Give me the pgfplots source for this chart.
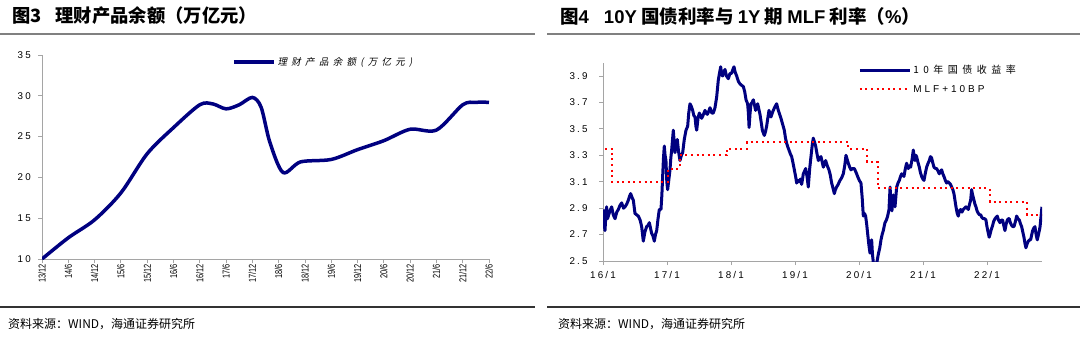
\documentclass[border=0pt]{standalone}
\usepackage{fontspec}
\usepackage{pgfplots}
\pgfplotsset{compat=1.18}
\setmainfont{Liberation Sans}
\newfontfamily\cjk{Noto Sans CJK SC}
\newfontfamily\cjkls[LetterSpace=45]{Noto Sans CJK SC}
\newfontfamily\cjklssl[LetterSpace=45,FakeSlant=0.2]{Noto Sans CJK SC}
\newfontfamily\lsA[LetterSpace=22]{Liberation Sans}
\newfontfamily\lsB[LetterSpace=30]{Liberation Sans}
\newfontfamily\lsC[LetterSpace=24]{Liberation Sans}
\newfontfamily\narrowf[FakeStretch=0.74]{Liberation Sans}
\definecolor{navy}{RGB}{0,0,128}
\definecolor{rulegray}{RGB}{128,128,128}
\definecolor{axgray}{RGB}{165,165,165}
\begin{document}
\begin{tikzpicture}[x=1pt,y=1pt]
\useasboundingbox (0,0) rectangle (1080,338);
\fill[white] (0,0) rectangle (1080,338);
% titles and rules
\node[anchor=west,inner sep=0] at (12,322) {\fontsize{18.3}{20}\selectfont\cjk\bfseries 图3\hspace{14pt}理财产品余额（万亿元）};
\node[anchor=west,inner sep=0] at (560,322) {\fontsize{18.5}{20}\selectfont\cjk\bfseries 图{\rmfamily\bfseries 4}\hspace{15pt}{\rmfamily\bfseries 10Y} 国债利率与 {\rmfamily\bfseries 1Y} 期 {\rmfamily\bfseries MLF} 利率（{\rmfamily\bfseries\%}）};
\draw[rulegray,line width=1.6pt] (0,304) -- (535,304);
\draw[rulegray,line width=1.6pt] (547,304) -- (1080,304);
\draw[black!80,line width=1.3pt] (0,31) -- (535,31);
\draw[black!80,line width=1.3pt] (547,31) -- (1080,31);
\node[anchor=west,inner sep=0] at (8,14) {\fontsize{12}{14}\selectfont\cjk 资料来源：WIND，海通证券研究所};
\node[anchor=west,inner sep=0] at (558,14) {\fontsize{12}{14}\selectfont\cjk 资料来源：WIND，海通证券研究所};

% left chart
\begin{axis}[at={(42pt,79pt)},anchor=south west,scale only axis,width=447pt,height=204pt,
  xmin=0,xmax=102,ymin=10,ymax=35,
  axis x line*=bottom,axis y line*=left,
  axis line style={axgray,line width=1pt},
  xtick={0,6,...,102},
  xticklabels={13/12,14/6,14/12,15/6,15/12,16/6,16/12,17/6,17/12,18/6,18/12,19/6,19/12,20/6,20/12,21/6,21/12,22/6},
  ytick={10,15,20,25,30,35},
  yticklabels={10,15,20,25,30,35},
  tick style={axgray,line width=0.8pt},tick align=outside,major tick length=4pt,
  xticklabel style={rotate=90,anchor=east,font=\fontsize{10}{10}\selectfont\narrowf,inner sep=1pt},
  yticklabel style={font=\fontsize{9.8}{10}\selectfont\lsC,inner sep=1pt,xshift=-6pt},
  legend style={at={(0.425,0.966)},anchor=west,draw=none,fill=none,inner sep=0pt,
    font=\fontsize{9.5}{10}\selectfont\cjklssl,legend cell align=left},
  legend image code/.code={\draw[#1] (0pt,0pt) -- (40pt,0pt);},
]
\addplot[navy,line width=3.5pt,smooth] coordinates {
(0,10.0) (6,12.6) (12,14.8) (18,18.1) (24,22.9) (30,26.1) (36,28.9) (39,29.0)
(42,28.4) (45,28.9) (48,29.8) (50,28.6) (52,24.3) (55,20.6) (59,21.9)
(66,22.2) (72,23.4) (78,24.5) (84,25.9) (90,25.8) (96,28.9) (99,29.2) (102,29.2)
};
\addlegendentry{理财产品余额(万亿元)}
\end{axis}

% right chart
\begin{axis}[at={(603pt,77pt)},anchor=south west,scale only axis,width=439pt,height=198.2pt,
  x filter/.expression={x-2016},
  xmin=0,xmax=6.86,ymin=2.5,ymax=4.0,
  axis x line*=bottom,axis y line*=left,
  axis line style={axgray,line width=1pt},
  xtick={0,1,2,3,4,5,6},
  xticklabels={16/1,17/1,18/1,19/1,20/1,21/1,22/1},
  ytick={2.5,2.7,2.9,3.1,3.3,3.5,3.7,3.9},
  yticklabels={2.5,2.7,2.9,3.1,3.3,3.5,3.7,3.9},
  tick style={axgray,line width=0.8pt},tick align=outside,major tick length=4pt,
  xticklabel style={font=\fontsize{9.8}{10}\selectfont\lsA,yshift=-3pt},
  yticklabel style={font=\fontsize{9.8}{10}\selectfont\lsA,xshift=-8pt},
  legend style={at={(0.581,0.999)},anchor=north west,draw=none,fill=none,inner sep=0pt,
    font=\fontsize{10}{11}\selectfont,legend cell align=left,row sep=6pt},
  legend image code/.code={\draw[#1] (0pt,0pt) -- (50pt,0pt);},
]
\addplot[navy,line width=3pt,line join=round] coordinates {
(2016.000,2.89) (2016.015,2.80) (2016.031,2.73) (2016.045,2.85) (2016.057,2.91) (2016.070,2.82)
(2016.083,2.84) (2016.110,2.88) (2016.135,2.91) (2016.160,2.85) (2016.188,2.82) (2016.215,2.87)
(2016.240,2.89) (2016.265,2.92) (2016.292,2.94) (2016.320,2.90) (2016.344,2.91) (2016.370,2.93)
(2016.396,2.96) (2016.415,2.99) (2016.432,3.01) (2016.455,2.98) (2016.474,2.96) (2016.500,2.86)
(2016.525,2.85) (2016.552,2.84) (2016.580,2.81) (2016.604,2.76) (2016.618,2.70) (2016.630,2.65)
(2016.655,2.72) (2016.682,2.76) (2016.705,2.77) (2016.724,2.79) (2016.742,2.75) (2016.760,2.71)
(2016.780,2.69) (2016.802,2.65) (2016.820,2.70) (2016.839,2.73) (2016.860,2.82) (2016.880,2.89)
(2016.906,2.89) (2016.920,3.00) (2016.932,3.14) (2016.945,3.28) (2016.958,3.37) (2016.970,3.30)
(2016.984,3.26) (2016.997,3.10) (2017.010,3.04) (2017.030,3.12) (2017.047,3.19) (2017.060,3.28)
(2017.073,3.34) (2017.090,3.44) (2017.099,3.49) (2017.112,3.40) (2017.125,3.32) (2017.143,3.38)
(2017.161,3.42) (2017.180,3.33) (2017.203,3.26) (2017.225,3.30) (2017.245,3.32) (2017.270,3.42)
(2017.297,3.49) (2017.323,3.52) (2017.340,3.62) (2017.359,3.69) (2017.380,3.67) (2017.401,3.64)
(2017.420,3.60) (2017.438,3.59) (2017.452,3.52) (2017.464,3.49) (2017.485,3.58) (2017.505,3.62)
(2017.525,3.60) (2017.542,3.58) (2017.570,3.61) (2017.594,3.64) (2017.612,3.62) (2017.630,3.61)
(2017.650,3.63) (2017.672,3.66) (2017.700,3.62) (2017.724,3.62) (2017.750,3.66) (2017.776,3.74)
(2017.802,3.87) (2017.820,3.92) (2017.839,3.97) (2017.855,3.91) (2017.870,3.90) (2017.890,3.93)
(2017.906,3.95) (2017.930,3.90) (2017.958,3.88) (2017.985,3.92) (2018.010,3.92) (2018.030,3.95)
(2018.047,3.97) (2018.065,3.93) (2018.089,3.90) (2018.115,3.86) (2018.141,3.84) (2018.165,3.83)
(2018.193,3.82) (2018.215,3.78) (2018.235,3.72) (2018.260,3.69) (2018.272,3.62) (2018.283,3.51)
(2018.298,3.62) (2018.313,3.69) (2018.330,3.70) (2018.349,3.72) (2018.367,3.68) (2018.385,3.64)
(2018.400,3.67) (2018.417,3.69) (2018.435,3.65) (2018.453,3.61) (2018.472,3.55) (2018.490,3.49)
(2018.505,3.47) (2018.521,3.45) (2018.540,3.48) (2018.557,3.52) (2018.575,3.58) (2018.594,3.64)
(2018.610,3.61) (2018.625,3.59) (2018.645,3.62) (2018.661,3.64) (2018.690,3.67) (2018.714,3.69)
(2018.728,3.66) (2018.740,3.64) (2018.760,3.61) (2018.781,3.58) (2018.810,3.53) (2018.833,3.49)
(2018.852,3.43) (2018.870,3.39) (2018.890,3.36) (2018.906,3.34) (2018.928,3.31) (2018.948,3.29)
(2018.970,3.24) (2018.990,3.19) (2019.010,3.14) (2019.026,3.09) (2019.045,3.11) (2019.063,3.10)
(2019.085,3.12) (2019.104,3.08) (2019.118,3.12) (2019.130,3.16) (2019.150,3.18) (2019.167,3.20)
(2019.188,3.14) (2019.208,3.06) (2019.230,3.20) (2019.250,3.29) (2019.270,3.38) (2019.286,3.43)
(2019.305,3.40) (2019.323,3.37) (2019.345,3.31) (2019.365,3.26) (2019.385,3.28) (2019.406,3.29)
(2019.425,3.25) (2019.443,3.21) (2019.462,3.24) (2019.479,3.26) (2019.505,3.22) (2019.531,3.19)
(2019.552,3.15) (2019.573,3.09) (2019.595,3.05) (2019.615,3.01) (2019.632,3.04) (2019.651,3.06)
(2019.675,3.08) (2019.703,3.11) (2019.730,3.13) (2019.755,3.16) (2019.777,3.22) (2019.797,3.30)
(2019.815,3.27) (2019.833,3.24) (2019.855,3.21) (2019.875,3.19) (2019.900,3.20) (2019.927,3.20)
(2019.955,3.17) (2019.979,3.14) (2020.005,3.11) (2020.031,3.09) (2020.050,2.98) (2020.068,2.84)
(2020.086,2.86) (2020.104,2.84) (2020.120,2.78) (2020.135,2.71) (2020.155,2.62) (2020.172,2.56)
(2020.185,2.62) (2020.198,2.66) (2020.211,2.55) (2020.224,2.49) (2020.250,2.48) (2020.276,2.48)
(2020.302,2.55) (2020.325,2.60) (2020.344,2.66) (2020.362,2.70) (2020.380,2.73) (2020.406,2.79)
(2020.428,2.81) (2020.448,2.84) (2020.469,2.89) (2020.486,3.06) (2020.500,2.93) (2020.515,2.88)
(2020.536,3.00) (2020.563,2.91) (2020.589,3.06) (2020.610,3.09) (2020.630,3.11) (2020.650,3.14)
(2020.667,3.16) (2020.685,3.15) (2020.703,3.14) (2020.725,3.20) (2020.745,3.24) (2020.760,3.21)
(2020.771,3.20) (2020.790,3.22) (2020.807,3.21) (2020.830,3.27) (2020.849,3.34) (2020.862,3.29)
(2020.875,3.26) (2020.890,3.30) (2020.901,3.29) (2020.920,3.25) (2020.943,3.21) (2020.960,3.17)
(2020.979,3.14) (2020.998,3.12) (2021.016,3.11) (2021.035,3.16) (2021.057,3.21) (2021.080,3.24)
(2021.099,3.26) (2021.117,3.29) (2021.135,3.28) (2021.155,3.24) (2021.172,3.21) (2021.195,3.20)
(2021.214,3.20) (2021.235,3.18) (2021.255,3.16) (2021.275,3.18) (2021.292,3.19) (2021.310,3.16)
(2021.328,3.14) (2021.350,3.11) (2021.370,3.09) (2021.390,3.10) (2021.411,3.09) (2021.430,3.08)
(2021.448,3.06) (2021.467,3.04) (2021.484,3.01) (2021.500,2.96) (2021.516,2.91) (2021.535,2.86)
(2021.552,2.84) (2021.570,2.88) (2021.589,2.89) (2021.610,2.87) (2021.630,2.89) (2021.650,2.90)
(2021.672,2.91) (2021.690,2.90) (2021.708,2.89) (2021.728,2.93) (2021.745,2.96) (2021.760,3.04)
(2021.776,3.00) (2021.797,2.96) (2021.812,2.93) (2021.828,2.91) (2021.845,2.88) (2021.865,2.86)
(2021.885,2.85) (2021.901,2.85) (2021.920,2.83) (2021.943,2.82) (2021.965,2.82) (2021.984,2.81)
(2022.000,2.76) (2022.021,2.71) (2022.035,2.68) (2022.047,2.70) (2022.068,2.74) (2022.089,2.77)
(2022.105,2.80) (2022.125,2.82) (2022.143,2.83) (2022.161,2.84) (2022.180,2.81) (2022.203,2.79)
(2022.225,2.81) (2022.245,2.81) (2022.262,2.77) (2022.281,2.73) (2022.300,2.78) (2022.318,2.81)
(2022.335,2.82) (2022.349,2.82) (2022.365,2.79) (2022.385,2.77) (2022.405,2.76) (2022.422,2.76)
(2022.445,2.80) (2022.464,2.84) (2022.485,2.82) (2022.505,2.81) (2022.525,2.78) (2022.542,2.76)
(2022.560,2.72) (2022.578,2.68) (2022.595,2.63) (2022.609,2.60) (2022.628,2.63) (2022.646,2.65)
(2022.665,2.66) (2022.682,2.66) (2022.700,2.70) (2022.714,2.73) (2022.732,2.75) (2022.750,2.76)
(2022.768,2.70) (2022.786,2.66) (2022.800,2.69) (2022.818,2.73) (2022.830,2.76) (2022.839,2.81)
(2022.850,2.86) (2022.859,2.91)
};
\addlegendentry{{\cjkls 10年国债收益率}}
\addplot[red,line width=2pt,dash pattern=on 2pt off 3.6pt,const plot] coordinates {
(2016.03,3.35) (2016.14,3.10) (2017.02,3.20) (2017.20,3.30) (2017.93,3.35) (2018.25,3.40)
(2019.83,3.35) (2020.12,3.25) (2020.29,3.05) (2022.04,2.95) (2022.62,2.85) (2022.86,2.85)
};
\addlegendentry{{\lsB MLF+10BP}}
\end{axis}
\end{tikzpicture}
\end{document}
